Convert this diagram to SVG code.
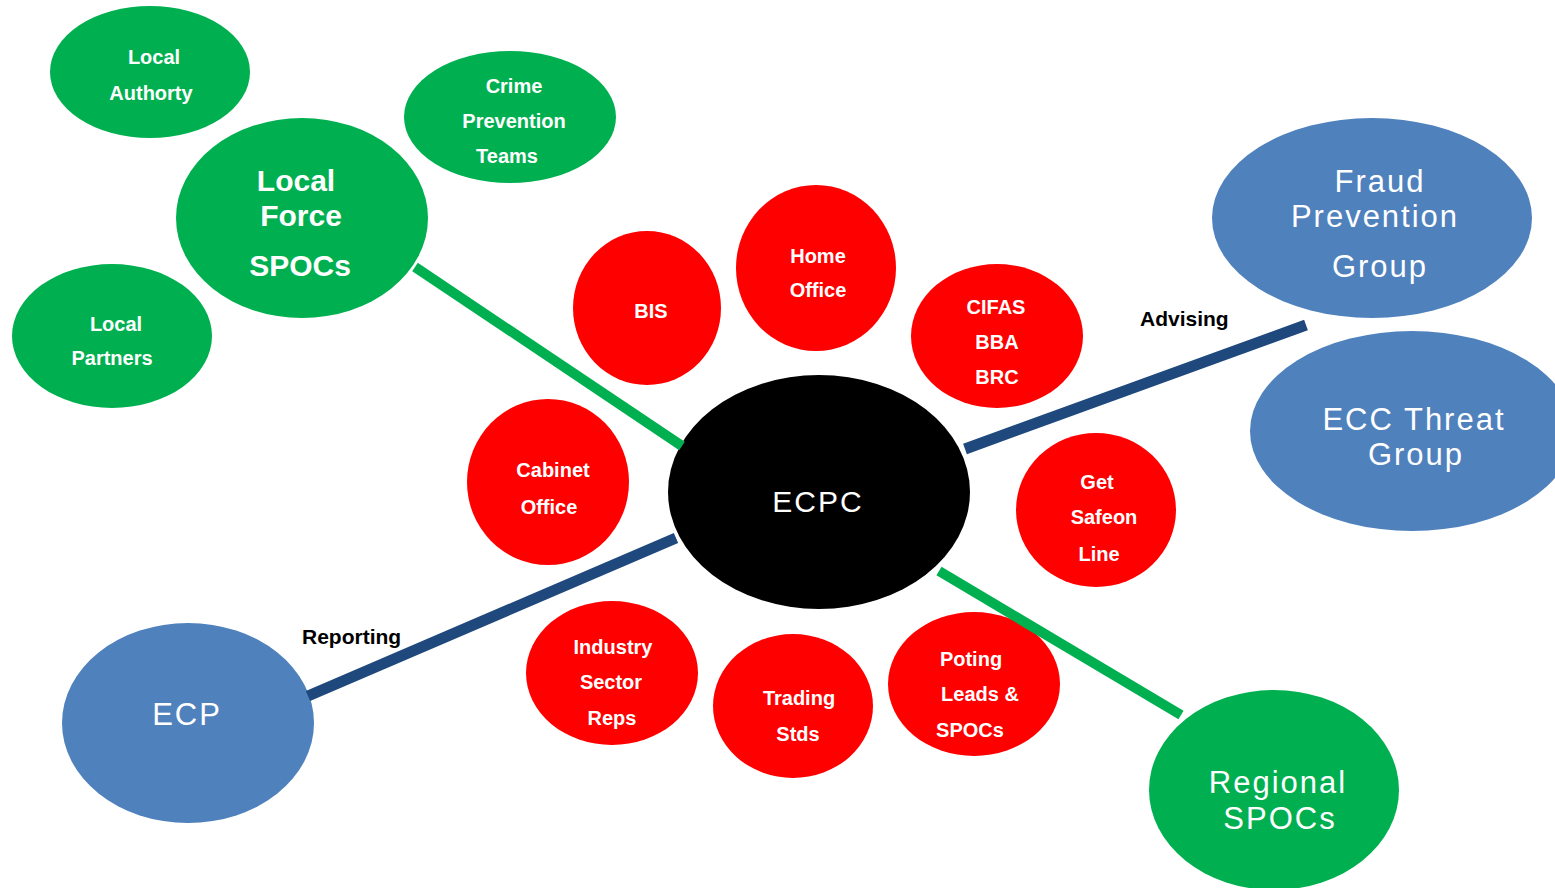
<svg xmlns="http://www.w3.org/2000/svg" width="1555" height="888" viewBox="0 0 1555 888">
<style>
.g{fill:#00b050}.r{fill:#ff0000}.b{fill:#4f81bd}.k{fill:#000}
text{font-family:"Liberation Sans Narrow","Liberation Sans",Arial,sans-serif;fill:#fff;text-anchor:middle}
.s{font-size:20px;font-weight:bold}
.m{font-size:20px;font-weight:bold}
.L{font-size:30px;font-weight:bold}
.big{font-size:31px;letter-spacing:2px}
.lab{font-size:21px;font-weight:bold;fill:#000;text-anchor:start}
.gl{stroke:#00b050;stroke-width:10;fill:none}
.nl{stroke:#1f497d;stroke-width:11;fill:none}
</style>
<rect width="1555" height="888" fill="#fff"/>
<g id="local-authority"><ellipse class="g" cx="150" cy="72" rx="100" ry="66"/><text class="s" x="154" y="64">Local</text><text class="s" x="151" y="100">Authorty</text></g>
<g id="crime-prevention"><ellipse class="g" cx="510" cy="117" rx="106" ry="66"/><text class="s" x="514" y="93">Crime</text><text class="s" x="514" y="128">Prevention</text><text class="s" x="507" y="163">Teams</text></g>
<g id="local-force"><ellipse class="g" cx="302" cy="218" rx="126" ry="100"/><text class="L" x="296" y="191">Local</text><text class="L" x="301" y="226">Force</text><text class="L" x="300" y="276">SPOCs</text></g>
<g id="local-partners"><ellipse class="g" cx="112" cy="336" rx="100" ry="72"/><text class="s" x="116" y="331">Local</text><text class="s" x="112" y="365">Partners</text></g>
<g id="bis"><ellipse class="r" cx="647" cy="308" rx="74" ry="77"/><text class="m" x="651" y="318">BIS</text></g>
<g id="home-office"><ellipse class="r" cx="816" cy="268" rx="80" ry="83"/><text class="m" x="818" y="263">Home</text><text class="m" x="818" y="297">Office</text></g>
<g id="cifas"><ellipse class="r" cx="997" cy="336" rx="86" ry="72"/><text class="m" x="996" y="314">CIFAS</text><text class="m" x="997" y="349">BBA</text><text class="m" x="997" y="384">BRC</text></g>
<g id="cabinet-office"><ellipse class="r" cx="548" cy="482" rx="81" ry="83"/><text class="m" x="553" y="477">Cabinet</text><text class="m" x="549" y="514">Office</text></g>
<g id="get-safe-online"><ellipse class="r" cx="1096" cy="510" rx="80" ry="77"/><text class="m" x="1097" y="489">Get</text><text class="m" x="1104" y="524">Safeon</text><text class="m" x="1099" y="561">Line</text></g>
<g id="industry"><ellipse class="r" cx="612" cy="673" rx="86" ry="72"/><text class="m" x="613" y="654">Industry</text><text class="m" x="611" y="689">Sector</text><text class="m" x="612" y="725">Reps</text></g>
<g id="trading"><ellipse class="r" cx="793" cy="706" rx="80" ry="72"/><text class="m" x="799" y="705">Trading</text><text class="m" x="798" y="741">Stds</text></g>
<g id="policing"><ellipse class="r" cx="974" cy="684" rx="86" ry="72"/><text class="m" x="971" y="666" style="text-anchor:middle">Poting</text><text class="m" x="980" y="701">Leads &amp;</text><text class="m" x="970" y="737">SPOCs</text></g>
<g id="regional"><ellipse class="g" cx="1274" cy="790" rx="125" ry="100"/><text class="big" x="1278" y="793">Regional</text><text class="big" x="1280" y="829">SPOCs</text></g>
<g id="ecp"><ellipse class="b" cx="188" cy="723" rx="126" ry="100"/><text class="big" x="187" y="725">ECP</text></g>
<g id="fraud"><ellipse class="b" cx="1372" cy="218" rx="160" ry="100"/><text class="big" x="1380" y="192">Fraud</text><text class="big" x="1375" y="227">Prevention</text><text class="big" x="1380" y="277">Group</text></g>
<g id="ecc-threat"><ellipse class="b" cx="1412" cy="431" rx="162" ry="100"/><text class="big" x="1414" y="430">ECC Threat</text><text class="big" x="1416" y="465">Group</text></g>
<g id="ecpc"><ellipse class="k" cx="819" cy="492" rx="151" ry="117"/><text class="big" x="818" y="512" style="font-size:30px">ECPC</text></g>
<g id="connectors">
<line class="gl" x1="415" y1="267" x2="682" y2="446"/>
<line class="nl" x1="965" y1="449" x2="1306" y2="325"/>
<line class="nl" x1="676" y1="538" x2="308" y2="696"/>
<line class="gl" x1="939" y1="571" x2="1181" y2="715"/>
<text class="lab" x="1140" y="326">Advising</text>
<text class="lab" x="302" y="644">Reporting</text>
</g>
</svg>
